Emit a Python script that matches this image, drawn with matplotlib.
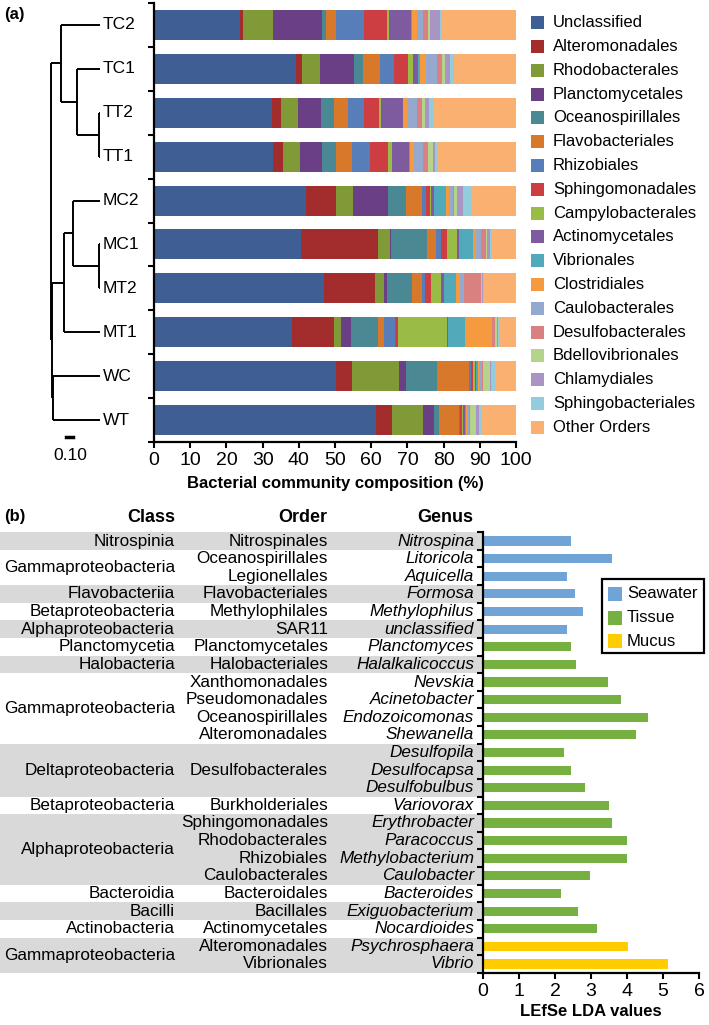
import matplotlib
matplotlib.use('Agg')
import matplotlib.pyplot as plt
from matplotlib.patches import Rectangle
from matplotlib.lines import Line2D
import numpy as np

plt.rcParams['font.family'] = ['Liberation Sans', 'DejaVu Sans']

W, H = 709, 1025
fig = plt.figure(figsize=(W / 100, H / 100), dpi=100)


def fx(px):
    return px / W


def fy(py):
    return 1 - py / H


def axrect(x0, y0, x1, y1):
    return [fx(x0), fy(y1), (x1 - x0) / W, (y1 - y0) / H]


# ---------------- data: panel (a) ----------------
samples = ['TC2', 'TC1', 'TT2', 'TT1', 'MC2', 'MC1', 'MT2', 'MT1', 'WC', 'WT']
orders = ['Unclassified', 'Alteromonadales', 'Rhodobacterales', 'Planctomycetales',
          'Oceanospirillales', 'Flavobacteriales', 'Rhizobiales', 'Sphingomonadales',
          'Campylobacterales', 'Actinomycetales', 'Vibrionales', 'Clostridiales',
          'Caulobacterales', 'Desulfobacterales', 'Bdellovibrionales', 'Chlamydiales',
          'Sphingobacteriales', 'Other Orders']
order_colors = ['#3F5E94', '#A32D2D', '#7F9A36', '#6A3F86', '#4A8893', '#D8782A',
                '#577EB9', '#CC3E41', '#9BBB47', '#7E5A9E', '#52A9B9', '#F59A3F',
                '#95A9CF', '#D98080', '#B5D38A', '#A995C3', '#93CDDD', '#FAB070']

comp_TC2 = [23.8, 0.9, 8.3, 13.3, 1.2, 2.8, 7.7, 6.3, 0.5, 6.1, 0.3, 1.5, 1.7, 1.3, 0.5, 2.8, 0.5, 20.5]
comp_TC1 = [39.1, 1.7, 5.1, 9.4, 2.3, 4.8, 3.9, 3.9, 1.3, 1.5, 0.5, 1.6, 3.0, 1.5, 0.7, 1.5, 1.1, 17.1]
comp_TT2 = [32.6, 2.5, 4.7, 6.2, 3.7, 3.9, 4.4, 4.1, 0.7, 5.9, 0.2, 1.1, 2.7, 1.3, 0.8, 1.2, 1.4, 22.6]
comp_TT1 = [32.8, 2.9, 4.7, 6.1, 3.9, 4.4, 4.9, 4.9, 1.1, 4.7, 0.2, 1.2, 2.4, 1.6, 1.3, 0.5, 0.9, 21.5]
comp_MC2 = [42.0, 8.2, 4.7, 9.7, 5.0, 4.3, 1.2, 1.1, 0.3, 0.9, 3.3, 0.9, 1.1, 0.3, 0.6, 1.7, 2.3, 12.4]
comp_MC1 = [40.6, 21.2, 3.4, 0.4, 9.7, 2.6, 1.3, 1.8, 2.6, 0.7, 3.9, 0.7, 1.3, 1.5, 0.4, 0.7, 0.7, 6.5]
comp_MT2 = [47.0, 14.0, 2.5, 0.8, 7.1, 2.5, 1.0, 1.6, 2.7, 0.9, 3.3, 1.1, 1.1, 4.7, 0.4, 0.3, 0.2, 8.8]
comp_MT1 = [38.0, 11.8, 1.9, 2.7, 7.6, 1.5, 3.1, 0.9, 13.4, 0.3, 4.8, 7.3, 0.2, 0.8, 0.4, 0.2, 0.5, 4.6]
comp_WC = [50.3, 4.3, 13.1, 1.8, 8.8, 8.7, 0.5, 0.7, 0.4, 0.3, 0.5, 0.3, 1.0, 0.2, 1.8, 0.3, 1.2, 5.8]
comp_WT = [61.2, 4.6, 8.4, 3.1, 1.5, 5.4, 0.4, 0.5, 0.3, 0.6, 0.3, 0.3, 0.4, 0.2, 1.8, 0.9, 0.6, 9.5]

# dendrogram merges: (child a, child b, height)
dendro_merges = [('TT2', 'TT1', 0.015),
                 ('TC1', 'n0', 0.333),
                 ('TC2', 'n1', 0.557),
                 ('MC1', 'MT2', 0.015),
                 ('MC2', 'n3', 0.381),
                 ('n4', 'MT1', 0.51),
                 ('WC', 'WT', 0.667),
                 ('n5', 'n6', 0.686),
                 ('n2', 'n7', 0.707)]
scale_bar_len = 0.10

# ---------------- data: panel (b) ----------------
tax_class = ['Nitrospinia', 'Gammaproteobacteria', 'Gammaproteobacteria', 'Flavobacteriia',
             'Betaproteobacteria', 'Alphaproteobacteria', 'Planctomycetia', 'Halobacteria',
             'Gammaproteobacteria', 'Gammaproteobacteria', 'Gammaproteobacteria',
             'Gammaproteobacteria', 'Deltaproteobacteria', 'Deltaproteobacteria',
             'Deltaproteobacteria', 'Betaproteobacteria', 'Alphaproteobacteria',
             'Alphaproteobacteria', 'Alphaproteobacteria', 'Alphaproteobacteria',
             'Bacteroidia', 'Bacilli', 'Actinobacteria', 'Gammaproteobacteria',
             'Gammaproteobacteria']
tax_order = ['Nitrospinales', 'Oceanospirillales', 'Legionellales', 'Flavobacteriales',
             'Methylophilales', 'SAR11', 'Planctomycetales', 'Halobacteriales',
             'Xanthomonadales', 'Pseudomonadales', 'Oceanospirillales', 'Alteromonadales',
             'Desulfobacterales', 'Desulfobacterales', 'Desulfobacterales', 'Burkholderiales',
             'Sphingomonadales', 'Rhodobacterales', 'Rhizobiales', 'Caulobacterales',
             'Bacteroidales', 'Bacillales', 'Actinomycetales', 'Alteromonadales',
             'Vibrionales']
genus = ['Nitrospina', 'Litoricola', 'Aquicella', 'Formosa', 'Methylophilus',
         'unclassified', 'Planctomyces', 'Halalkalicoccus', 'Nevskia', 'Acinetobacter',
         'Endozoicomonas', 'Shewanella', 'Desulfopila', 'Desulfocapsa', 'Desulfobulbus',
         'Variovorax', 'Erythrobacter', 'Paracoccus', 'Methylobacterium', 'Caulobacter',
         'Bacteroides', 'Exiguobacterium', 'Nocardioides', 'Psychrosphaera', 'Vibrio']
lda = [2.44, 3.58, 2.32, 2.56, 2.79, 2.34, 2.44, 2.59, 3.47, 3.82, 4.57, 4.25, 2.25,
       2.44, 2.82, 3.49, 3.58, 4.01, 3.99, 2.97, 2.17, 2.64, 3.16, 4.02, 5.13]
habitat = ['Seawater'] * 6 + ['Tissue'] * 17 + ['Mucus'] * 2
habitat_names = ['Seawater', 'Tissue', 'Mucus']
habitat_colors = ['#70A3D6', '#76B041', '#FFCC00']

# ================= panel (a) =================
composition = np.array([comp_TC2, comp_TC1, comp_TT2, comp_TT1, comp_MC2,
                        comp_MC1, comp_MT2, comp_MT1, comp_WC, comp_WT])
ns = len(samples)
ypos = np.arange(ns)

ax = fig.add_axes(axrect(154, 3.0, 516, 442.0))
left = np.zeros(ns)
for j, col in enumerate(order_colors):
    ax.barh(ypos, composition[:, j], left=left, height=0.685, color=col,
            linewidth=0, label=orders[j])
    left += composition[:, j]
ax.set_ylim(ns - 0.5, -0.5)
ax.set_xlim(0, 100)
ax.set_yticks(np.arange(-0.5, ns + 0.5, 1))
ax.set_yticklabels([])
ax.set_xticks(np.arange(0, 101, 10))
for s in ['top', 'right']:
    ax.spines[s].set_visible(False)
for s in ['left', 'bottom']:
    ax.spines[s].set_linewidth(1.6)
ax.tick_params(axis='both', direction='out', length=4, width=1.5, labelsize=14, pad=3)
ax.set_xlabel('Bacterial community composition (%)', fontsize=12,
              fontweight='bold', labelpad=5)

# dendrogram
px_per_unit = 70.0
tip_px = 100.0
axd = fig.add_axes(axrect(0, 3.0, 154, 442.0))
axd.set_xlim(tip_px / px_per_unit, -(154 - tip_px) / px_per_unit)
axd.set_ylim(ns - 0.5, -0.5)
axd.axis('off')
node_y = {s: i for i, s in enumerate(samples)}
node_h = {s: 0.0 for s in samples}
for k, (a, b, h) in enumerate(dendro_merges):
    name = 'n%d' % k
    ya, yb = node_y[a], node_y[b]
    axd.plot([h, h], [ya, yb], color='black', lw=1.4, solid_capstyle='butt')
    axd.plot([node_h[a], h], [ya, ya], color='black', lw=1.4, solid_capstyle='butt')
    axd.plot([node_h[b], h], [yb, yb], color='black', lw=1.4, solid_capstyle='butt')
    node_y[name] = (ya + yb) / 2
    node_h[name] = h
for i, s in enumerate(samples):
    axd.text(-3 / px_per_unit, i, s, ha='left', va='center', fontsize=12.5)

# scale bar
fig.add_artist(Line2D([fx(66), fx(66 + scale_bar_len * px_per_unit)], [fy(437), fy(437)],
                      color='black', lw=2.5, transform=fig.transFigure))
fig.text(fx(70), fy(456), '%.2f' % scale_bar_len, ha='center', va='center', fontsize=12.5)

fig.text(fx(4), fy(15), '(a)', ha='left', va='center', fontsize=12, fontweight='bold')

# legend (a)
for i, (name, col) in enumerate(zip(orders, order_colors)):
    yc = 22.7 + i * 23.8
    fig.add_artist(Rectangle((fx(530.5), fy(yc + 6.5)), 13 / W, 13 / H, color=col,
                             transform=fig.transFigure, lw=0))
    fig.text(fx(553), fy(yc), name, ha='left', va='center', fontsize=12)

# ================= panel (b) =================
nr = len(genus)
rows = np.arange(nr)
y_top, y_bot = 532.2, 972.8

axt = fig.add_axes(axrect(0, y_top, 483, y_bot))
axt.set_xlim(0, 483)
axt.set_ylim(nr - 0.5, -0.5)
axt.axis('off')


def runs(seq):
    out = []
    start = 0
    for i in range(1, len(seq) + 1):
        if i == len(seq) or seq[i] != seq[start]:
            out.append((seq[start], start, i - 1))
            start = i
    return out


for g, (name, r0, r1) in enumerate(runs(tax_class)):
    if g % 2 == 0:
        axt.axhspan(r0 - 0.5, r1 + 0.5, xmin=0, xmax=1, color='#D9D9D9', lw=0)
    axt.text(175, (r0 + r1) / 2, name, ha='right', va='center', fontsize=12.3)
for name, r0, r1 in runs(tax_order):
    axt.text(328, (r0 + r1) / 2, name, ha='right', va='center', fontsize=12.3)
for i, gname in enumerate(genus):
    axt.text(474, i, gname, ha='right', va='center', fontsize=12.3, fontstyle='italic')

fig.text(fx(4), fy(517), '(b)', ha='left', va='center', fontsize=12, fontweight='bold')
fig.text(fx(175), fy(518), 'Class', ha='right', va='center', fontsize=13, fontweight='bold')
fig.text(fx(327), fy(518), 'Order', ha='right', va='center', fontsize=13, fontweight='bold')
fig.text(fx(473), fy(518), 'Genus', ha='right', va='center', fontsize=13, fontweight='bold')

axb = fig.add_axes(axrect(483, y_top, 699, y_bot))
hab_color = dict(zip(habitat_names, habitat_colors))
axb.barh(rows, lda, height=0.52, color=[hab_color[h] for h in habitat], linewidth=0)
axb.set_ylim(nr - 0.5, -0.5)
axb.set_xlim(0, 6)
axb.set_yticks(np.arange(-0.5, nr + 0.5, 1))
axb.set_yticklabels([])
axb.set_xticks(np.arange(0, 7, 1))
for s in ['top', 'right']:
    axb.spines[s].set_visible(False)
for s in ['left', 'bottom']:
    axb.spines[s].set_linewidth(1.6)
axb.tick_params(axis='both', direction='out', length=4, width=1.5, labelsize=14, pad=3)
axb.set_xlabel('LEfSe LDA values', fontsize=12, fontweight='bold', labelpad=3)
axb.patch.set_alpha(0)

# legend (b)
fig.add_artist(Rectangle((fx(602), fy(653)), (704 - 602) / W, (653 - 579) / H,
                         fill=False, ec='black', lw=1.6, transform=fig.transFigure))
for i, (name, col) in enumerate(zip(habitat_names, habitat_colors)):
    yc = 594 + i * 23.5
    fig.add_artist(Rectangle((fx(608), fy(yc + 7)), 14 / W, 14 / H, color=col,
                             transform=fig.transFigure, lw=0))
    fig.text(fx(627), fy(yc), name, ha='left', va='center', fontsize=12)

fig.savefig('out.png', dpi=100)
